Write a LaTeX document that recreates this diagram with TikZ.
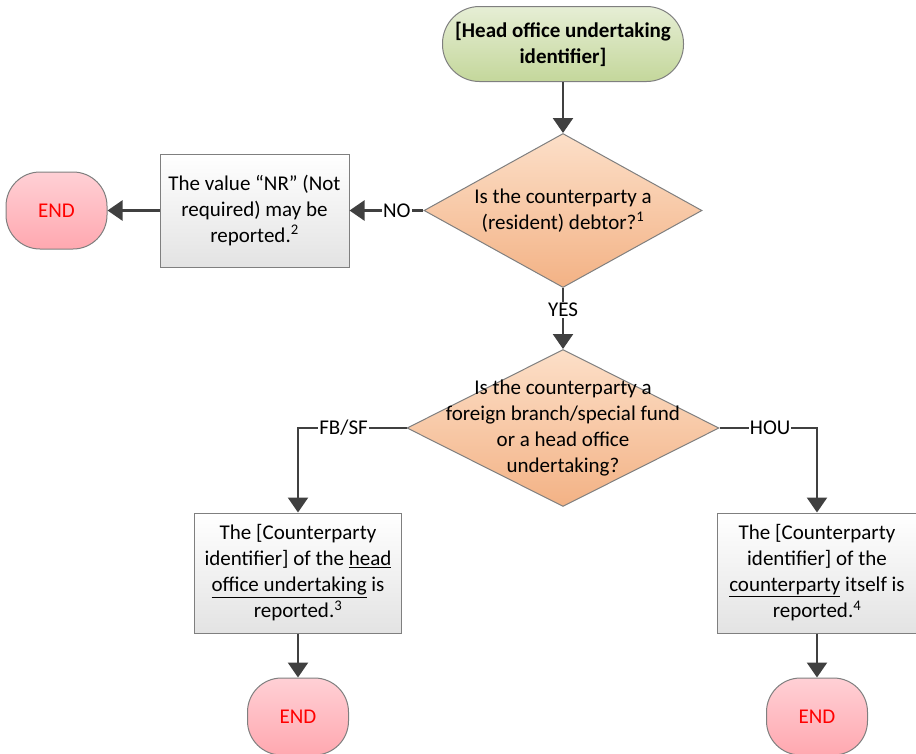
\documentclass[tikz,border=0pt]{standalone}
\usepackage{fontspec}
\setmainfont{Carlito}
\usepackage{xcolor}
\usetikzlibrary{arrows.meta,positioning,shapes.geometric}
\definecolor{linegray}{HTML}{404040}
\definecolor{bordergray}{HTML}{7F7F7F}
\definecolor{starttop}{HTML}{E6EED5}
\definecolor{startbot}{HTML}{C4D79B}
\definecolor{endtop}{HTML}{FFD0D5}
\definecolor{endbot}{HTML}{FFA8B0}
\definecolor{decitop}{HTML}{FCDFC8}
\definecolor{decibot}{HTML}{F3B285}
\begin{document}
\begin{tikzpicture}[x=1pt, y=1pt, font=\fontsize{21}{26}\selectfont, node distance=50pt,
  every node/.style={align=center},
  startstop/.style={draw=bordergray, line width=1pt, rounded corners=37pt, top color=starttop, bottom color=startbot, minimum width=241pt, minimum height=75pt, font=\fontsize{21}{26}\selectfont\bfseries},
  endnode/.style={draw=bordergray, line width=1pt, rounded corners=34pt, top color=endtop, bottom color=endbot, minimum width=101pt, minimum height=77pt, text=red},
  decision/.style={diamond, draw=bordergray, line width=1pt, top color=decitop, bottom color=decibot, inner sep=-45pt},
  report/.style={draw=bordergray, line width=1pt, top color=white, bottom color=black!11, minimum height=120pt, inner sep=3pt},
  flow/.style={draw=linegray, line width=2.4pt, -{Triangle[length=15pt,width=20pt]}},
  lbl/.style={fill=white, inner sep=1pt, font=\fontsize{21}{26}\selectfont}]
\useasboundingbox (0,0) rectangle (916,-753);
\node[startstop] (start) at (563,-44) {[Head office undertaking\\identifier]};
\node[decision, minimum width=278pt, minimum height=154pt, below=51pt of start] (debtor) {Is the counterparty a\\(resident) debtor?\textsuperscript{1}};
\node[report, minimum width=189pt, minimum height=113pt, left=74pt of debtor] (nr) {The value “NR” (Not\\required) may be\\reported.\textsuperscript{2}};
\node[endnode, left=52pt of nr] (end1) {END};
\node[decision, minimum width=312pt, minimum height=157pt, below=61pt of debtor] (kind) {Is the counterparty a\\foreign branch/special fund\\or a head office\\undertaking?};
\node[report, minimum width=207pt] (fbsf) at (298,-573) {The [Counterparty\\identifier] of the \underline{head}\\\underline{office undertaking} is\\reported.\textsuperscript{3}};
\node[report, minimum width=199pt] (hou) at (817,-573) {The [Counterparty\\identifier] of the\\\underline{counterparty} itself is\\reported.\textsuperscript{4}};
\node[endnode, below=44pt of fbsf] (end2) {END};
\node[endnode, below=44pt of hou] (end3) {END};
\draw[flow] (start) -- (debtor);
\draw[flow] (debtor) -- node[lbl, pos=0.36] {NO} (nr);
\draw[flow] (nr) -- (end1);
\draw[flow] (debtor) -- node[lbl, pos=0.36] {YES} (kind);
\draw[flow] (kind.west) -| node[lbl, pos=0.29] {FB/SF} (fbsf);
\draw[flow] (kind.east) -| node[lbl, pos=0.26] {HOU} (hou);
\draw[flow] (fbsf) -- (end2);
\draw[flow] (hou) -- (end3);
\end{tikzpicture}
\end{document}
